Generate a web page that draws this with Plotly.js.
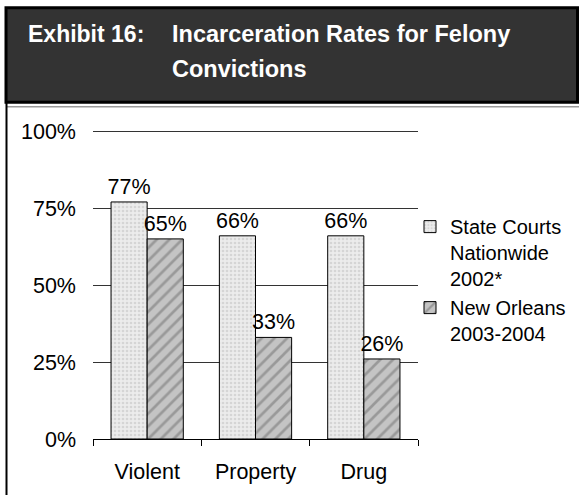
<!DOCTYPE html>
<html>
<head>
<meta charset="utf-8">
<script src="https://cdn.plot.ly/plotly-3.0.1.min.js"></script>
<style>
html,body{margin:0;padding:0;background:#fff;}
#chart{width:579px;height:495px;}
</style>
</head>
<body>
<div id="chart"></div>
<script>
// ---- data ----
const categories = ["Violent", "Property", "Drug"];
const seriesNames = ["State Courts<br>Nationwide<br>2002*", "New Orleans<br>2003-2004"];
const stateCourts = [77, 66, 66];
const newOrleans = [65, 33, 26];
const yTickVals = [0, 25, 50, 75, 100];
const yTickText = ["0%", "25%", "50%", "75%", "100%"];
const titleLead = "Exhibit 16:";
const titleLine1 = "Incarceration Rates for Felony";
const titleLine2 = "Convictions";

// ---- layout helpers (pixel -> paper) ----
const W = 579, H = 495;
const YMAX = 102;                         // axis headroom so the 100% gridline is drawn
const L = 93, R = 418, B = 439;
const T = B - (439 - 131) * YMAX / 100;   // 100% sits at y=131px
const px = p => (p - L) / (R - L);
const py = p => (B - p) / (B - T);
const FONT = "Liberation Sans, Arial, sans-serif";
const FS = 21.5;

const traces = [
  {
    type: "bar", name: seriesNames[0], x: categories, y: stateCourts,
    marker: {
      color: "#e8e8e8",
      line: {color: "#000", width: 1},
      pattern: {shape: ".", size: 4, solidity: 0.35, fgcolor: "#bdbdbd", bgcolor: "#ececec", fillmode: "overlay"}
    },
    texttemplate: "%{y}%", textposition: "outside", cliponaxis: false, constraintext: "none",
    textfont: {family: FONT, size: FS, color: "#000"}, hoverinfo: "skip"
  },
  {
    type: "bar", name: seriesNames[1], x: categories, y: newOrleans,
    marker: {
      color: "#c0c0c0",
      line: {color: "#000", width: 1},
      pattern: {shape: "/", size: 9, solidity: 0.3, fgcolor: "#6e6e6e", bgcolor: "#c4c4c4", fillmode: "overlay"}
    },
    texttemplate: "%{y}%", textposition: "outside", cliponaxis: false, constraintext: "none",
    textfont: {family: FONT, size: FS, color: "#000"}, hoverinfo: "skip"
  }
];

const layout = {
  width: W, height: H,
  margin: {l: L, r: W - R, t: T, b: H - B, pad: 0, autoexpand: false},
  paper_bgcolor: "#fff", plot_bgcolor: "#fff",
  font: {family: FONT, size: FS, color: "#000"},
  barmode: "group", bargap: 0.333, bargroupgap: 0,
  showlegend: true,
  legend: {
    x: px(410), y: py(207), xanchor: "left", yanchor: "top",
    font: {family: FONT, size: 20, color: "#000"},
    valign: "top", tracegroupgap: 0, bgcolor: "rgba(0,0,0,0)"
  },
  xaxis: {
    showline: true, linecolor: "#000", linewidth: 1,
    ticks: "outside", tickson: "boundaries", ticklen: 6, tickcolor: "#000",
    showgrid: false, tickfont: {family: FONT, size: FS, color: "#000"},
    ticklabelstandoff: 13, fixedrange: true
  },
  yaxis: {
    range: [0, YMAX], tickvals: yTickVals, ticktext: yTickText,
    showline: false, ticks: "", showgrid: true, gridcolor: "#333", gridwidth: 1,
    zeroline: false, tickfont: {family: FONT, size: FS, color: "#000"},
    ticklabelstandoff: 16, fixedrange: true
  },
  shapes: [
    {type: "rect", xref: "paper", yref: "paper", x0: px(6), x1: px(577.5), y0: py(102), y1: py(7.5),
     fillcolor: "#333333", line: {color: "#000", width: 3}, layer: "above"},
    {type: "line", xref: "paper", yref: "paper", x0: px(6), x1: px(579), y0: py(106.5), y1: py(106.5),
     line: {color: "#9a9a9a", width: 1.5}},
    {type: "line", xref: "paper", yref: "paper", x0: px(6.5), x1: px(6.5), y0: py(102), y1: py(495),
     line: {color: "#000", width: 2}}
  ],
  annotations: [
    {text: "<b>" + titleLead + "</b>", xref: "paper", yref: "paper", x: px(26), y: py(34),
     xanchor: "left", yanchor: "middle", showarrow: false,
     font: {family: FONT, size: 23, color: "#fff"}},
    {text: "<b>" + titleLine1 + "</b>", xref: "paper", yref: "paper", x: px(170), y: py(34),
     xanchor: "left", yanchor: "middle", showarrow: false,
     font: {family: FONT, size: 23.5, color: "#fff"}},
    {text: "<b>" + titleLine2 + "</b>", xref: "paper", yref: "paper", x: px(170), y: py(69),
     xanchor: "left", yanchor: "middle", showarrow: false,
     font: {family: FONT, size: 23.5, color: "#fff"}}
  ]
};

Plotly.newPlot("chart", traces, layout, {displayModeBar: false, staticPlot: true});
</script>
</body>
</html>
